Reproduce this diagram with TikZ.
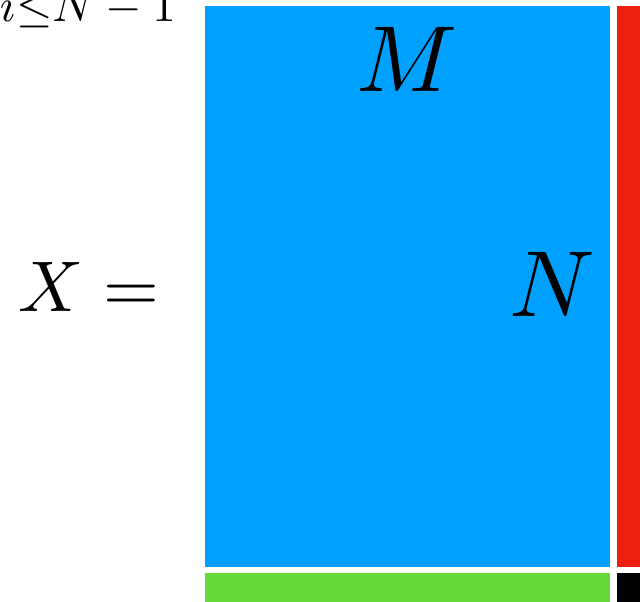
\documentclass[tikz,border=0pt]{standalone}
\usepackage{tikz}
\definecolor{blockBlue}{RGB}{0,160,255}
\definecolor{blockRed}{RGB}{237,32,16}
\definecolor{blockGreen}{RGB}{100,219,56}
\definecolor{blockBlack}{RGB}{0,0,0}

\begin{document}
\begin{tikzpicture}[
    x=0.5pt, y=-0.5pt,
    % Styles
    block/.style={draw=none},
    biglabel/.style={
        inner sep=0pt, 
        scale=4.69
    },
    midlabel/.style={
        inner sep=0pt, 
        scale=3.59
    },
    smalllabel/.style={
        inner sep=0pt, 
        scale=2.34
    }
]

    % ---------------------------------------------------------
    % FRAME (cropped view)
    % ---------------------------------------------------------
    \useasboundingbox (0,0) rectangle (640,601);
    \clip (0,0) rectangle (640,601);

    % ---------------------------------------------------------
    % BLOCKS OF THE MATRIX
    % ---------------------------------------------------------
    \fill[block, blockBlue]  (205,6)   rectangle (609.5,567);
    \fill[block, blockRed]   (616.5,6) rectangle (660,567);
    \fill[block, blockGreen] (205,573) rectangle (609.5,620);
    \fill[block, blockBlack] (616.5,573) rectangle (660,620);

    % ---------------------------------------------------------
    % LABELS
    % ---------------------------------------------------------
    \node[smalllabel, anchor=base west] (range) at (-1,21) {$i{\le}N-1$};
    \node[midlabel, anchor=base west] (lhs) at (17,311) {$X=$};
    \node[biglabel, anchor=base] (cols) at (407,91) {$M$};
    \node[biglabel, anchor=base] (rows) at (552,316) {$N$};

\end{tikzpicture}
\end{document}
